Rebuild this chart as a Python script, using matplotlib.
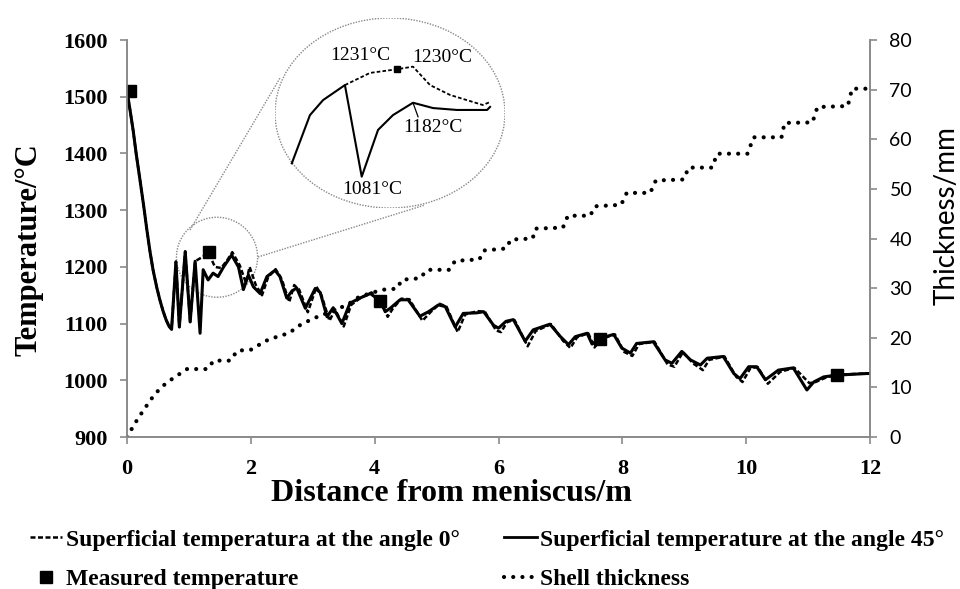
import matplotlib
matplotlib.use("Agg")
import matplotlib.pyplot as plt
from matplotlib.patches import Ellipse
from matplotlib.lines import Line2D

# ---------------- data ----------------
# Superficial temperature at the angle 45 deg (solid)
x_45 = [0.0, 0.05, 0.10, 0.15, 0.21, 0.27, 0.32, 0.37, 0.42, 0.48, 0.53, 0.58, 0.63, 0.68, 0.72,
        0.79, 0.845, 0.94, 1.02, 1.10, 1.18, 1.23, 1.31,
        1.39, 1.47, 1.56, 1.69, 1.80, 1.88, 1.96, 2.04, 2.15, 2.26, 2.39, 2.47, 2.58, 2.66, 2.74, 2.88,
        3.04, 3.12, 3.23, 3.33, 3.47, 3.60, 3.76, 3.93, 4.09, 4.17, 4.25, 4.41, 4.54, 4.73, 4.87, 5.03,
        5.14, 5.30, 5.43, 5.65, 5.76, 5.92, 6.00, 6.12, 6.24, 6.43, 6.56, 6.83, 7.00, 7.13, 7.24, 7.43,
        7.51, 7.64, 7.86, 7.99, 8.13, 8.23, 8.50, 8.69, 8.80, 8.96, 9.10, 9.26, 9.37, 9.63, 9.80, 9.90,
        10.04, 10.17, 10.31, 10.52, 10.76, 10.98, 11.09, 11.25, 11.44, 11.95, 12.0]
t_45 = [1510, 1476, 1440, 1398, 1353, 1307, 1266, 1228, 1195, 1164, 1142, 1123, 1107, 1095, 1090,
        1209, 1094, 1227, 1103, 1210, 1083, 1195, 1177,
        1189, 1183, 1200, 1221, 1200, 1160, 1186, 1165, 1153, 1183, 1194, 1183, 1145, 1157, 1163, 1127,
        1162, 1155, 1112, 1128, 1100, 1136, 1145, 1153, 1140, 1121, 1127, 1142, 1142, 1113, 1121, 1133,
        1130, 1094, 1118, 1119, 1121, 1097, 1092, 1104, 1107, 1069, 1089, 1099, 1077, 1063, 1077, 1083,
        1064, 1074, 1081, 1057, 1048, 1065, 1068, 1036, 1030, 1051, 1036, 1027, 1039, 1042, 1012, 1003,
        1024, 1024, 1001, 1018, 1022, 983, 997, 1006, 1009, 1012, 1012]

# Superficial temperatura at the angle 0 deg (dashed)
x_0 = [0.0, 0.05, 0.10, 0.15, 0.21, 0.27, 0.32, 0.37, 0.42, 0.48, 0.53, 0.58, 0.63, 0.68, 0.72,
       0.79, 0.845, 0.94, 1.02, 1.10, 1.32, 1.42, 1.52,
       1.62, 1.70, 1.82, 1.92, 1.98, 2.08, 2.18, 2.28, 2.40, 2.50, 2.62, 2.70, 2.78, 2.92, 3.06, 3.14,
       3.27, 3.36, 3.50, 3.62, 3.78, 3.95, 4.10, 4.21, 4.29, 4.43, 4.56, 4.77, 4.90, 5.05, 5.16, 5.34,
       5.46, 5.66, 5.78, 5.96, 6.04, 6.14, 6.26, 6.47, 6.60, 6.85, 7.04, 7.16, 7.27, 7.45, 7.55, 7.66,
       7.88, 8.03, 8.16, 8.27, 8.52, 8.73, 8.84, 8.98, 9.14, 9.30, 9.40, 9.65, 9.84, 9.94, 10.07, 10.19,
       10.35, 10.55, 10.78, 11.02, 11.12, 11.27, 11.45, 11.95, 12.0]
t_0 = [1510, 1476, 1440, 1398, 1353, 1307, 1266, 1228, 1195, 1164, 1142, 1123, 1107, 1095, 1090,
       1209, 1094, 1227, 1103, 1210, 1224, 1200, 1198,
       1212, 1226, 1203, 1172, 1200, 1168, 1150, 1182, 1196, 1178, 1138, 1168, 1160, 1120, 1165, 1150,
       1105, 1125, 1095, 1133, 1146, 1155, 1140, 1112, 1126, 1144, 1143, 1105, 1120, 1135, 1130, 1085,
       1116, 1122, 1121, 1088, 1085, 1103, 1106, 1060, 1087, 1099, 1070, 1057, 1076, 1083, 1058, 1073,
       1081, 1050, 1043, 1064, 1068, 1028, 1024, 1050, 1030, 1018, 1036, 1042, 1006, 997, 1022, 1023,
       994, 1015, 1022, 995, 997, 1004, 1010, 1012, 1012]

# Measured temperature
x_meas = [0.05, 1.32, 4.09, 7.64, 11.47]
t_meas = [1511, 1227, 1140, 1072, 1010]

# Shell thickness (mm)
x_shell = [0.0, 0.13, 0.26, 0.40, 0.54, 0.65, 0.75, 0.86, 0.97, 1.30, 1.40, 1.67, 1.78, 2.00, 2.07, 2.20,
           2.42, 2.63, 2.74, 2.96, 3.07, 3.28, 3.44, 3.60, 3.71, 3.93, 4.14, 4.36, 4.44, 4.73, 4.85, 5.20,
           5.30, 5.69, 5.77, 6.12, 6.20, 6.55, 6.60, 7.04, 7.12, 7.48, 7.56, 7.98, 8.07, 8.45, 8.54, 8.99,
           9.07, 9.45, 9.53, 10.02, 10.12, 10.57, 10.62, 11.07, 11.15, 11.64, 11.71, 12.0]
th_shell = [0.0, 2.8, 5.3, 7.8, 9.9, 11.0, 11.9, 12.8, 13.7, 13.7, 15.4, 15.4, 17.4, 17.6, 18.0, 19.2,
            20.2, 21.0, 22.2, 23.6, 24.2, 25.2, 26.0, 27.0, 28.0, 29.0, 29.7, 29.9, 31.7, 32.0, 33.7, 33.7,
            35.5, 35.8, 37.6, 38.0, 39.8, 40.0, 42.0, 42.2, 44.6, 44.6, 46.5, 46.8, 49.2, 49.2, 51.7, 51.9,
            54.3, 54.3, 57.1, 57.1, 60.4, 60.4, 63.3, 63.4, 66.5, 66.7, 70.2, 70.2]

# Zoomed schematic inset (inset units 0-100)
inset_x_solid = [7.3, 15.2, 20.9, 30.4, 37.7, 44.8, 51.3, 60.0, 68.7, 79.1, 92.2, 93.5]
inset_y_solid = [23.5, 48.9, 56.8, 64.7, 16.5, 41.1, 48.9, 55.4, 52.6, 51.6, 51.6, 53.2]
inset_x_dash = [30.4, 41.3, 52.9, 60.0, 67.4, 76.1, 90.4, 93.5]
inset_y_dash = [64.7, 71.1, 73.0, 74.4, 64.7, 59.5, 54.2, 55.8]
inset_meas = (52.9, 73.0)
inset_labels = ["1231\u00b0C", "1230\u00b0C", "1182\u00b0C", "1081\u00b0C"]
inset_label_pos = [(37.0, 80.5), (72.6, 79.0), (68.7, 42.6), (42.2, 9.5)]

x_ticks = [0, 2, 4, 6, 8, 10, 12]
t_ticks = [900, 1000, 1100, 1200, 1300, 1400, 1500, 1600]
th_ticks = [0, 10, 20, 30, 40, 50, 60, 70, 80]

# ---------------- style ----------------
serif = "Liberation Serif"
sans = "Lato"
spine_c = "#8a8a8a"

fig = plt.figure(figsize=(9.6, 5.89), dpi=100)
ax = fig.add_axes([0.1323, 0.258, 0.774, 0.674])
ax2 = ax.twinx()

ax.plot(x_0, t_0, color="black", lw=1.8, linestyle=(0, (2, 1)), zorder=3)
ax.plot(x_45, t_45, color="black", lw=2.2, zorder=4)
ax.plot(x_meas, t_meas, linestyle="none", marker="s", ms=9, color="black", zorder=5)
ax2.plot(x_shell, th_shell, color="black", lw=3.0, linestyle=(0, (0.01, 2.2)),
         dash_capstyle="round", solid_capstyle="round")

ax.set_xlim(0, 12)
ax.set_ylim(900, 1600)
ax2.set_ylim(0, 80)
ax.set_xticks(x_ticks)
ax.set_yticks(t_ticks)
ax2.set_yticks(th_ticks)

for a in (ax, ax2):
    for s in a.spines.values():
        s.set_color(spine_c)
        s.set_linewidth(1.2)
    a.spines["top"].set_visible(False)
    a.tick_params(colors=spine_c, length=5, width=1.2, direction="out")
ax.tick_params(axis="both", labelcolor="black")
ax2.tick_params(axis="y", labelcolor="black", pad=9)
ax.tick_params(axis="y", pad=9)
ax.tick_params(axis="x", pad=11)

for lab in ax.get_xticklabels() + ax.get_yticklabels():
    lab.set_fontfamily(serif)
    lab.set_fontweight("bold")
    lab.set_fontsize(16)
for lab in ax2.get_yticklabels():
    lab.set_fontfamily(sans)
    lab.set_fontsize(14)

ax.set_ylabel("Temperature/\u00b0C", family=serif, weight="bold", fontsize=22)
ax.yaxis.set_label_coords(-0.112, 0.471)
ax.set_xlabel("Distance from meniscus/m", family=serif, weight="bold", fontsize=23)
ax.xaxis.set_label_coords(0.436, -0.105)
ax2.set_ylabel("Thickness/mm", family=sans, fontsize=20)
ax2.yaxis.set_label_coords(1.086, 0.559)

# small circle around the zoomed region
ax.add_patch(Ellipse((1.454, 1217), 1.31, 141, fill=False, ec="#888888", lw=1.0,
                     linestyle=(0, (1, 1)), zorder=2))

# connector lines (figure fractions)
W, H = 960.0, 589.0
for (xa, ya), (xb, yb) in [((190, 230), (280, 78)), ((258, 257), (425, 205))]:
    fig.add_artist(Line2D([xa / W, xb / W], [1 - ya / H, 1 - yb / H], transform=fig.transFigure,
                          color="#888888", lw=1.0, linestyle=(0, (1, 1))))

# inset
axi = fig.add_axes([275 / W, 1 - 208 / H, 230 / W, 190 / H])
axi.set_xlim(0, 100)
axi.set_ylim(0, 100)
axi.axis("off")
axi.patch.set_alpha(0)
axi.add_patch(Ellipse((50, 50), 100, 100, fill=False, ec="#888888", lw=1.0, linestyle=(0, (1, 1))))
axi.plot(inset_x_dash, inset_y_dash, color="black", lw=1.3, linestyle=(0, (2, 1.2)))
axi.plot(inset_x_solid, inset_y_solid, color="black", lw=1.5)
axi.plot([inset_meas[0]], [inset_meas[1]], marker="s", ms=5, color="black")
axi.plot([60.0, 62.2], [55.4, 48.0], color="black", lw=0.9)
for txt, (px, py) in zip(inset_labels, inset_label_pos):
    axi.text(px, py, txt, family=serif, fontsize=14, ha="center", va="center")

# legend
h_dash = Line2D([], [], color="black", lw=1.8, linestyle=(0, (2, 1)))
h_meas = Line2D([], [], color="black", linestyle="none", marker="s", ms=8)
h_solid = Line2D([], [], color="black", lw=2.0)
h_shell = Line2D([], [], color="black", lw=3.0, linestyle=(0, (0.01, 2.2)), dash_capstyle="round")
leg = fig.legend([h_dash, h_meas, h_solid, h_shell],
                 ["Superficial temperatura at the angle 0\u00b0", "Measured temperature",
                  "Superficial temperature at the angle 45\u00b0", "Shell thickness"],
                 ncol=2, loc="upper left", bbox_to_anchor=(30 / W, 1 - 529 / H), frameon=False,
                 borderpad=0, borderaxespad=0, handlelength=1.36, handletextpad=0.15,
                 columnspacing=1.9, labelspacing=0.75,
                 prop={"family": serif, "weight": "bold", "size": 17})

fig.savefig("out.png", dpi=100)
